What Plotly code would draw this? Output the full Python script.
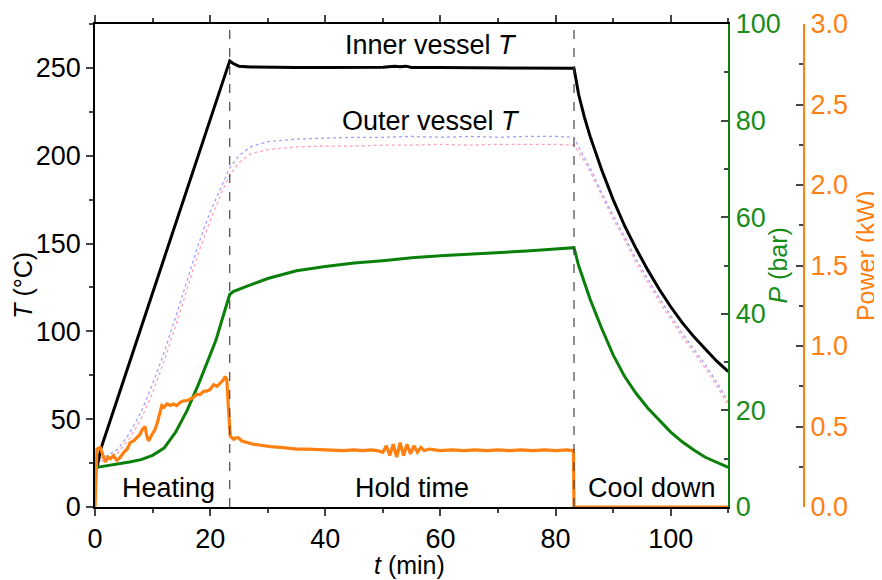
import plotly.graph_objects as go

# ---------------- data ----------------
# Inner vessel temperature (°C)
t_inner = [0.3, 1.0, 5, 10, 15, 20, 23.0, 23.4, 24.0, 25.0, 27, 30, 35, 40, 45, 50, 52, 53, 54, 55, 60, 65, 70, 75, 80, 83.2,
           84, 85, 86, 88, 90, 92, 94, 96, 98, 100, 102, 104, 106, 108, 110]
T_inner = [22, 33, 72.5, 121.8, 171, 220.5, 250, 254, 252.5, 251, 250.5, 250.3, 250.2, 250.2, 250.3, 250.4, 250.9, 250.6, 251.0, 250.3,
           250.2, 250.1, 250.2, 250.1, 250.0, 249.8,
           235, 222, 211, 192, 175, 160, 147, 135, 124, 114, 105, 97, 90, 83, 77]

# Outer vessel temperature (°C) - two interleaved sensor traces
t_outer = [0.5, 1, 2, 4, 6, 8, 10, 12, 14, 16, 18, 20, 22, 23.4, 25, 27, 30, 35, 40, 45, 50, 55, 60, 65, 70, 75, 80, 83.2,
           84, 85, 86, 88, 90, 92, 94, 96, 98, 100, 102, 104, 106, 108, 110]
T_outer_a = [24, 28, 29, 33, 42, 54, 70, 88, 108, 129, 150, 168, 183, 193, 200, 205, 208, 209.5, 210, 210.5, 210.5, 211, 210.5, 211, 210.5, 211, 211, 210.5,
             205, 199, 193, 179, 166, 154, 141, 130, 119, 109, 99, 90, 81, 71, 60]
T_outer_b = [23, 26, 27, 31, 39, 50, 65, 83, 103, 124, 145, 163, 179, 189, 196, 201, 203.5, 205, 205.5, 205.5, 206, 206, 206.5, 206, 206.5, 206.5, 206.5, 206,
             202, 197, 191, 177, 164, 152, 139, 128, 117, 107, 97, 88, 79, 69, 58]

# Pressure (bar)
t_p = [0.3, 2, 4, 6, 8, 10, 12, 14, 16, 18, 20, 21, 22, 23, 23.4, 24, 25, 27, 30, 35, 40, 45, 50, 55, 60, 65, 70, 75, 80, 83.2,
       84, 85, 86, 88, 90, 92, 94, 96, 98, 100, 102, 104, 106, 108, 110]
P_bar = [8.2, 8.5, 8.9, 9.3, 9.8, 10.7, 12.2, 15.5, 20, 25.5, 31.5, 34.5, 38.5, 42.5, 44, 44.6, 45.1, 46, 47.3, 48.9, 49.8, 50.5, 51, 51.6, 52, 52.3, 52.7, 53, 53.4, 53.7,
         50, 46.5, 43, 37, 31.5, 27, 23.5, 20.5, 18, 15.5, 13.5, 11.8, 10.3, 9.2, 8.2]

# Heater power (kW)
t_pw = [0, 0.2, 0.35, 0.9, 1.3, 1.8, 2.3, 2.7, 3.2, 3.8, 4.4, 5.0, 5.6, 6.1, 6.7, 7.3, 7.8, 8.2, 8.7, 9.0, 9.3, 9.9, 10.4, 10.8,
        11.3, 11.6, 12.0, 12.5, 13.1, 13.6, 14.2, 14.8, 15.4, 16.0, 16.5, 17.1, 17.7, 18.3, 18.9, 19.4, 20.0, 20.6, 21.2, 21.8,
        22.3, 22.6, 22.9, 23.2, 23.5, 23.8, 24.1, 24.5, 24.9, 25.5, 26.4, 27.5, 28.5, 29.3, 30.5, 32.2, 33.5, 35.1, 37, 39.1, 41,
        43, 45, 46.5, 48, 49, 50, 50.6, 51.2, 51.8, 52.4, 53, 53.6, 54.2, 54.8, 55.4, 56, 56.6, 57.2, 58, 59, 60, 62, 64, 66, 68,
        70, 72, 74, 76, 78, 80, 82, 83.1, 83.2, 83.3, 90, 100, 110]
power_kw = [0.0, 0.30, 0.36, 0.37, 0.33, 0.28, 0.31, 0.30, 0.32, 0.29, 0.31, 0.34, 0.36, 0.40, 0.41, 0.43, 0.45, 0.48, 0.50, 0.44, 0.41, 0.45, 0.48, 0.52,
            0.58, 0.63, 0.62, 0.64, 0.63, 0.64, 0.63, 0.65, 0.66, 0.66, 0.67, 0.68, 0.70, 0.70, 0.72, 0.72, 0.73, 0.76, 0.75, 0.77,
            0.79, 0.81, 0.79, 0.60, 0.44, 0.43, 0.42, 0.43, 0.43, 0.41, 0.40, 0.39, 0.385, 0.38, 0.375, 0.37, 0.365, 0.36, 0.36, 0.355, 0.355,
            0.35, 0.355, 0.35, 0.355, 0.35, 0.34, 0.38, 0.32, 0.39, 0.31, 0.40, 0.32, 0.39, 0.33, 0.38, 0.34, 0.37, 0.35, 0.36, 0.355, 0.35, 0.355, 0.35, 0.355, 0.35,
            0.355, 0.35, 0.355, 0.35, 0.355, 0.35, 0.355, 0.35, 0.0, 0.0, 0.0, 0.0, 0.0]

phase_bounds = [23.4, 83.2]
phase_labels = ["Heating", "Hold time", "Cool down"]
phase_label_t = [12.8, 55, 96.7]

x_ticks = [0, 20, 40, 60, 80, 100]

# ---------------- styling ----------------
FONT = "Arial, 'Liberation Sans', sans-serif"
GREEN = "#1a8c1a"
LINEGREEN = "#0a800a"
ORANGE = "#ff8010"
TICK = 27
LAB = 27
TITLE = 25


def A(**kw):
    d = dict(showarrow=False, xanchor="center", yanchor="middle")
    d.update(kw)
    return d


fig = go.Figure()
fig.add_trace(go.Scatter(x=t_outer, y=T_outer_a, mode="lines",
                         line=dict(color="rgba(120,120,255,0.7)", width=1.3, dash="dot"), yaxis="y"))
fig.add_trace(go.Scatter(x=t_outer, y=T_outer_b, mode="lines",
                         line=dict(color="rgba(255,120,160,0.7)", width=1.3, dash="dot"), yaxis="y"))
fig.add_trace(go.Scatter(x=t_inner, y=T_inner, mode="lines",
                         line=dict(color="black", width=3), yaxis="y"))
fig.add_trace(go.Scatter(x=t_p, y=P_bar, mode="lines",
                         line=dict(color=LINEGREEN, width=3), yaxis="y2"))
fig.add_trace(go.Scatter(x=t_pw, y=power_kw, mode="lines", cliponaxis=False,
                         line=dict(color=ORANGE, width=3.2), yaxis="y3"))

for xb in phase_bounds:
    fig.add_shape(type="line", xref="x", yref="paper", x0=xb, x1=xb, y0=0, y1=1,
                  line=dict(color="#444444", width=1.2, dash="dash"))

ann = []
for lab, tx in zip(phase_labels, phase_label_t):
    ann.append(A(x=tx, y=11, xref="x", yref="y", text=lab,
                 font=dict(size=LAB, color="black", family=FONT)))
ann.append(A(x=58.4, y=263, xref="x", yref="y", text="Inner vessel <i>T</i>",
             font=dict(size=LAB, color="black", family=FONT)))
ann.append(A(x=58.4, y=220, xref="x", yref="y", text="Outer vessel <i>T</i>",
             font=dict(size=LAB, color="black", family=FONT)))
# axis titles
ann.append(A(x=-0.0915, y=0.46, xref="paper", yref="paper", text="<i>T</i> (°C)", textangle=-90,
             font=dict(size=TITLE, color="black", family=FONT)))
ann.append(A(x=0.400, y=-0.120, xref="paper", yref="paper", text="<i>t</i> (min)",
             font=dict(size=TITLE, color="black", family=FONT)))
ann.append(A(x=0.8666, y=0.50, xref="paper", yref="paper", text="<i>P</i> (bar)", textangle=-90,
             font=dict(size=TITLE, color=GREEN, family=FONT)))
ann.append(A(x=0.980, y=0.52, xref="paper", yref="paper", text="Power (kW)", textangle=-90,
             font=dict(size=TITLE, color=ORANGE, family=FONT)))

# page body has an 8 px margin, so the figure is drawn 8 px smaller and shifted
fig.update_layout(
    width=874, height=572,
    margin=dict(l=87, r=0, t=16, b=73),
    plot_bgcolor="white", paper_bgcolor="white",
    showlegend=False,
    font=dict(family=FONT, size=TICK, color="black"),
    annotations=ann,
    xaxis=dict(domain=[0, 0.8047], range=[0, 110], tickvals=x_ticks, ticks="outside", ticklen=7, tickwidth=1.5,
               minor=dict(dtick=10, ticks="outside", ticklen=4, tickwidth=1.5),
               showline=True, linecolor="black", linewidth=1.5, mirror="ticks", automargin=False,
               showgrid=False, zeroline=False, tickfont=dict(size=TICK, family=FONT)),
    yaxis=dict(range=[0, 275], dtick=50, ticks="outside", ticklen=7, tickwidth=1.5,
               minor=dict(dtick=25, ticks="outside", ticklen=4, tickwidth=1.5),
               showline=True, linecolor="black", linewidth=1.5, automargin=False,
               showgrid=False, zeroline=False, tickfont=dict(size=TICK, family=FONT)),
    yaxis2=dict(range=[0, 100], dtick=20, overlaying="y", side="right", anchor="x",
                ticks="inside", ticklen=7, tickwidth=1.5, automargin=False,
                minor=dict(dtick=10, ticks="inside", ticklen=4, tickwidth=1.5),
                showline=True, linecolor=LINEGREEN, linewidth=2,
                showgrid=False, zeroline=False, tickfont=dict(size=TICK, color=GREEN, family=FONT)),
    yaxis3=dict(range=[0, 3], dtick=0.5, tickformat=".1f", overlaying="y", side="right", anchor="free",
                position=0.9009, ticks="inside", ticklen=7, tickwidth=1.5, automargin=False,
                minor=dict(dtick=0.25, ticks="inside", ticklen=4, tickwidth=1.5),
                showline=True, linecolor=ORANGE, linewidth=2,
                showgrid=False, zeroline=False, tickfont=dict(size=TICK, color=ORANGE, family=FONT)),
)

fig.write_html("out.html")
